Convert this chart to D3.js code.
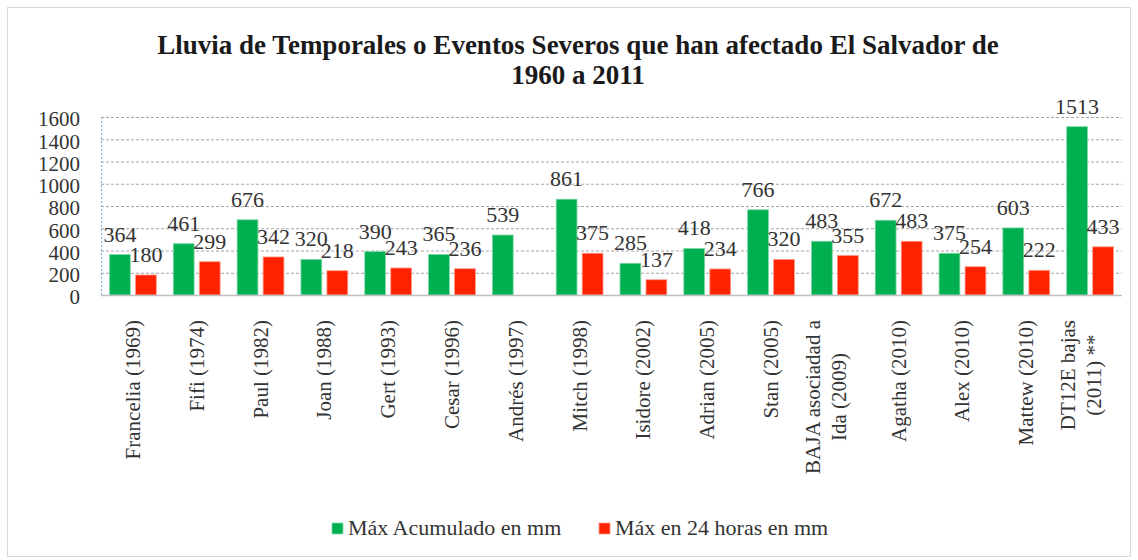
<!DOCTYPE html>
<html><head><meta charset="utf-8">
<script src="https://cdn.jsdelivr.net/npm/d3@7"></script>
<style>body{margin:0;background:#fff}</style>
</head><body>
<svg id="c" width="1138" height="560"></svg>
<script>
const categories = [
  ["Francelia (1969)"], ["Fifi (1974)"], ["Paul (1982)"], ["Joan (1988)"],
  ["Gert (1993)"], ["Cesar (1996)"], ["Andrés (1997)"], ["Mitch (1998)"],
  ["Isidore (2002)"], ["Adrian (2005)"], ["Stan (2005)"],
  ["BAJA asociadad a", "Ida (2009)"], ["Agatha (2010)"], ["Alex (2010)"],
  ["Mattew (2010)"], ["DT12E bajas", "(2011) **"]
];
const maxAcumulado = [364, 461, 676, 320, 390, 365, 539, 861, 285, 418, 766, 483, 672, 375, 603, 1513];
const max24h = [180, 299, 342, 218, 243, 236, null, 375, 137, 234, 320, 355, 483, 254, 222, 433];
const seriesNames = ["Máx Acumulado en mm", "Máx en 24 horas en mm"];
const yTicks = [0, 200, 400, 600, 800, 1000, 1200, 1400, 1600];
const titleLines = ["Lluvia de Temporales o Eventos Severos que han afectado El Salvador de", "1960 a 2011"];

const colors = ["#00B050", "#FF2200"];
const svg = d3.select("#c");
const M = {left: 101, right: 1122, top: 117, bottom: 295};

svg.append("rect").attr("x", 7.5).attr("y", 7.5).attr("width", 1123).attr("height", 549)
  .attr("fill", "#fff").attr("stroke", "#d9d9d9").attr("stroke-width", 1);

// title
svg.append("g").selectAll("text").data(titleLines).join("text")
  .attr("x", 578).attr("y", (d, i) => 54 + i * 30)
  .attr("text-anchor", "middle")
  .attr("font-family", "Liberation Serif").attr("font-weight", "bold").attr("font-size", 27)
  .attr("fill", "#1a1a1a").text(d => d);

const x0 = d3.scaleBand().domain(d3.range(categories.length)).range([M.left, M.right]).paddingInner(0).paddingOuter(0);
const x1 = d3.scaleBand().domain([0, 1]).range([8.5, x0.bandwidth() - 8.5]).paddingInner(0.2);
const y = d3.scaleLinear().domain([0, 1600]).range([M.bottom, M.top]);

// gridlines
svg.append("g").selectAll("line").data(yTicks.filter(t => t > 0)).join("line")
  .attr("x1", M.left).attr("x2", M.right).attr("y1", d => y(d) + 0.5).attr("y2", d => y(d) + 0.5)
  .attr("stroke", "#a6a6a6").attr("stroke-width", 1).attr("stroke-dasharray", "3,2");

// left axis (dotted blue)
svg.append("line").attr("x1", M.left + 0.5).attr("x2", M.left + 0.5).attr("y1", M.top).attr("y2", M.bottom)
  .attr("stroke", "#8fb3df").attr("stroke-width", 1.2).attr("stroke-dasharray", "2,2");

// y tick labels
const yAxis = d3.axisLeft(y).tickValues(yTicks).tickFormat(d3.format("d")).tickSize(0).tickPadding(21);
const ga = svg.append("g").attr("transform", `translate(${M.left},0)`).call(yAxis);
ga.select(".domain").remove();
ga.selectAll("text").attr("font-family", "Liberation Serif").attr("font-size", 21).attr("fill", "#333").attr("dy", "0.42em");

// bars
const series = [maxAcumulado, max24h];
const groups = svg.append("g").selectAll("g").data(categories.map((c, i) => i)).join("g")
  .attr("transform", i => `translate(${x0(i)},0)`);
series.forEach((vals, s) => {
  const g = groups.filter(i => vals[i] != null);
  g.append("rect")
    .attr("x", x1(s)).attr("width", x1.bandwidth())
    .attr("y", i => y(vals[i]))
    .attr("height", i => y(0) - y(vals[i]))
    .attr("fill", colors[s]).attr("stroke", s === 0 ? "#7fd8a8" : "#ff9a88").attr("stroke-width", 0.8);
});
series.forEach((vals, s) => {
  groups.filter(i => vals[i] != null).append("text")
    .attr("x", x1(s) + x1.bandwidth() / 2)
    .attr("y", i => y(vals[i]) - 13)
    .attr("text-anchor", "middle").attr("font-family", "Liberation Serif").attr("font-size", 22).attr("fill", "#333")
    .text(i => vals[i]);
});

// baseline
svg.append("line").attr("x1", M.left).attr("x2", M.right).attr("y1", M.bottom + 0.5).attr("y2", M.bottom + 0.5)
  .attr("stroke", "#bfbfbf").attr("stroke-width", 1.5);

// category labels
const cl = svg.append("g").selectAll("text").data(categories).join("text")
  .attr("transform", (d, i) => {
    const cx = x0(i) + x0.bandwidth() / 2 + 7 - (d.length - 1) * 22;
    return `translate(${cx},320) rotate(-90)`;
  })
  .attr("font-family", "Liberation Serif").attr("font-size", 21).attr("fill", "#333");
cl.selectAll("tspan").data(d => d).join("tspan")
  .attr("dy", (d, i) => i === 0 ? 0 : 26)
  .text(d => d);
cl.each(function() {
  const spans = d3.select(this).selectAll("tspan").nodes();
  const widths = spans.map(s => s.getComputedTextLength());
  const maxW = d3.max(widths);
  spans.forEach((s, k) => d3.select(s).attr("x", -maxW + (maxW - widths[k]) / 2));
});

// legend
const lg = svg.append("g").selectAll("g").data(seriesNames).join("g")
  .attr("transform", (d, i) => `translate(${[332, 599][i]},523)`);
lg.append("rect").attr("width", 11).attr("height", 11).attr("fill", (d, i) => colors[i])
  .attr("stroke", (d, i) => i === 0 ? "#7fd8a8" : "#ff9a88").attr("stroke-width", 0.8);
lg.append("text").attr("x", 16).attr("y", 12).attr("font-family", "Liberation Serif").attr("font-size", 22)
  .attr("fill", "#333").text(d => d);
</script>
</body></html>
